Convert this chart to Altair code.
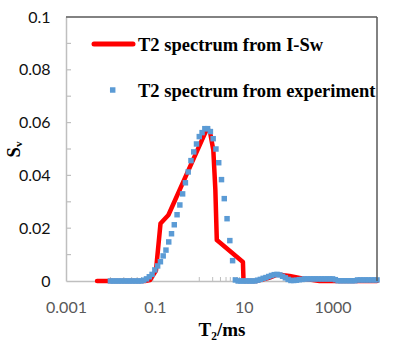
import altair as alt
import pandas as pd

# ---- data ----
exp_T = [0.01, 0.01155, 0.01334, 0.0154, 0.01778, 0.02054, 0.02371, 0.02738, 0.03162, 0.03652, 0.04217, 0.0487, 0.05623, 0.06494, 0.07499, 0.0866,
         0.1, 0.1155, 0.1334, 0.154, 0.1778, 0.2054, 0.2371, 0.2738, 0.3162, 0.3652, 0.4217, 0.487, 0.5623, 0.6494, 0.7499, 0.866,
         1, 1.155, 1.334, 1.54, 1.778, 2.054, 2.371, 2.738, 3.162, 3.652, 4.217, 4.87, 5.623, 6.494, 7.499, 8.66,
         10, 11.55, 13.34, 15.4, 17.78, 20.54, 23.71, 27.38, 31.62, 36.52, 42.17, 48.7, 56.23, 64.94, 74.99, 86.6,
         100, 115.5, 133.4, 154, 177.8, 205.4, 237.1, 273.8, 316.2, 365.2, 421.7, 487, 562.3, 649.4, 749.9, 866,
         1000, 1155, 1334, 1540, 1778, 2054, 2371, 2738, 3162, 3652, 4217, 4870, 5623, 6494, 7499, 8660,
         10000]
exp_S = [0, 0, 0, 0, 0, 0, 0, 0, 0, 0, 0, 0,
         0.0003, 0.0008, 0.0016, 0.0025, 0.0042, 0.0057, 0.0073, 0.0095, 0.0117, 0.0148, 0.0179, 0.0213,
         0.0251, 0.0288, 0.0330, 0.0372, 0.0413, 0.0456, 0.0489, 0.0519, 0.0547, 0.0562, 0.0577, 0.0577,
         0.0566, 0.0539, 0.0500, 0.0448, 0.0384, 0.0312, 0.0236, 0.0153, 0.0077,
         0.0004, 0, 0, 0, 0, 0, 0, 0,
         0.0003, 0.0006, 0.0010, 0.0013, 0.0017, 0.0021, 0.0024, 0.0025, 0.0023, 0.0018, 0.0012, 0.0006, 0.0002,
         0.0002, 0.0003, 0.0005, 0.0006,
         0.0008, 0.0008, 0.0008, 0.0008, 0.0008, 0.0008, 0.0008, 0.0008, 0.0008, 0.0008, 0.0008,
         0.0005, 0.0001, 0.0001, 0.0001, 0.0001, 0.0001, 0.0001, 0.0001,
         0.0004, 0.0004, 0.0004, 0.0004, 0.0004, 0.0004, 0.0004, 0.0004]

isw_T = [0.005, 0.06, 0.078, 0.106, 0.134, 0.202, 1.48, 1.73, 2.07, 2.30, 2.48, 9.6, 9.9, 19.3, 37, 58, 107, 234, 508, 10000]
isw_S = [0, 0, 0.0004, 0.004, 0.0218, 0.025, 0.0575, 0.0568, 0.0496, 0.0345, 0.0155, 0.0072, 0, 0, 0.0012, 0.0025, 0.0019, 0.0008, 0, 0]

x_labels = [0.001, 0.1, 10, 1000]
x_minor = [0.01, 0.02, 0.03, 0.04, 0.05, 0.06, 0.07, 0.08, 0.09,
           1, 2, 3, 4, 5, 6, 7, 8, 9,
           100, 200, 300, 400, 500, 600, 700, 800, 900]
y_labels = [0, 0.02, 0.04, 0.06, 0.08, 0.1]
y_ticks = [0.01, 0.02, 0.03, 0.04, 0.05, 0.06, 0.07, 0.08, 0.09]

legend_labels = ["T2 spectrum from I-Sw", "T2 spectrum from experiment"]

W, H = 311, 264

exp_df = pd.DataFrame({"T": exp_T, "S": exp_S})
isw_df = pd.DataFrame({"T": isw_T, "S": isw_S, "i": list(range(len(isw_T)))})

xscale = alt.Scale(type="log", domain=[0.001, 10000], nice=False)
yscale = alt.Scale(domain=[0, 0.1], nice=False)

x_axis = alt.Axis(values=x_labels, format="~g", ticks=False, grid=False, labelFlush=False,
                  labelOverlap=False,
                  labelFont="Lato", labelFontSize=16, labelColor="#595959", labelPadding=18,
                  domainColor="#bfbfbf", domainWidth=1.5,
                  title="T₂/ms", titleFont="Liberation Serif", titleFontWeight="bold",
                  titleFontSize=19, titleColor="black", titleY=54, titleBaseline="alphabetic")
y_axis = alt.Axis(values=y_labels, format="~g", ticks=False, grid=False, labelFlush=False,
                  labelFont="Lato", labelFontSize=16, labelColor="#111111", labelPadding=16,
                  domainColor="#bfbfbf", domainWidth=1.5,
                  title="Sᵥ", titleFont="Liberation Serif", titleFontWeight="bold",
                  titleFontSize=18.5, titleColor="black", titleX=-53, titleY=H / 2,
                  titleBaseline="middle", titleAngle=-90)

line = alt.Chart(isw_df).mark_line(color="#ff0000", strokeWidth=4.5, strokeCap="round", strokeJoin="round").encode(
    x=alt.X("T:Q", scale=xscale, axis=x_axis),
    y=alt.Y("S:Q", scale=yscale, axis=y_axis),
    order="i:Q",
)

pts = alt.Chart(exp_df).mark_square(color="#5b9bd5", size=30, opacity=1).encode(
    x=alt.X("T:Q", scale=xscale),
    y=alt.Y("S:Q", scale=yscale),
)

xminor = alt.Chart(pd.DataFrame({"T": x_minor})).mark_rule(color="#bfbfbf", strokeWidth=1).encode(
    x=alt.X("T:Q", scale=xscale),
    y=alt.value(H), y2=alt.value(H - 4),
)
yticks = alt.Chart(pd.DataFrame({"S": y_ticks})).mark_rule(color="#bfbfbf", strokeWidth=1.2).encode(
    y=alt.Y("S:Q", scale=yscale),
    x=alt.value(0), x2=alt.value(5),
)

one = alt.Data(values=[{}])
top_border = alt.Chart(one).mark_rule(color="#595959", strokeWidth=1.5).encode(
    x=alt.value(0), x2=alt.value(W), y=alt.value(0))
right_border = alt.Chart(one).mark_rule(color="#595959", strokeWidth=1.5).encode(
    x=alt.value(W), y=alt.value(0), y2=alt.value(H))

leg_line = alt.Chart(one).mark_rule(color="#ff0000", strokeWidth=5, strokeCap="round").encode(
    x=alt.value(28), x2=alt.value(67), y=alt.value(27))
leg_sq = alt.Chart(one).mark_square(color="#5b9bd5", size=30, opacity=1).encode(
    x=alt.value(46.7), y=alt.value(73))
leg_t1 = alt.Chart(one).mark_text(font="Liberation Serif", fontWeight="bold", fontSize=18.5,
                                  align="left", baseline="middle", color="black").encode(
    x=alt.value(72), y=alt.value(28), text=alt.value(legend_labels[0]))
leg_t2 = alt.Chart(one).mark_text(font="Liberation Serif", fontWeight="bold", fontSize=18.5,
                                  align="left", baseline="middle", color="black").encode(
    x=alt.value(72), y=alt.value(74), text=alt.value(legend_labels[1]))

chart = alt.layer(xminor, yticks, line, pts, top_border, right_border,
                  leg_line, leg_sq, leg_t1, leg_t2).properties(
    width=W, height=H,
    autosize=alt.AutoSizeParams(type="none"),
    padding={"left": 66, "top": 17, "right": 413 - 66 - W, "bottom": 354 - 17 - H},
    background="white",
).configure_view(stroke=None)

chart.save("out.html", embed_options={"renderer": "svg", "actions": False})
